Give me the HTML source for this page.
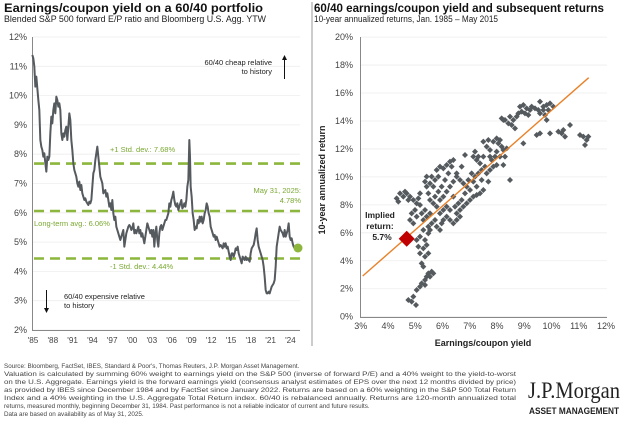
<!DOCTYPE html>
<html><head><meta charset="utf-8"><style>
body{margin:0;width:624px;height:428px;background:#fff;overflow:hidden;font-family:"Liberation Sans",sans-serif;}
svg{position:absolute;left:0;top:0}
</style></head><body>
<svg id="s" width="624" height="428" xmlns="http://www.w3.org/2000/svg" font-family="Liberation Sans, sans-serif">
<text x="4" y="12" font-size="11.5" font-weight="bold" fill="#111" textLength="259" lengthAdjust="spacingAndGlyphs">Earnings/coupon yield on a 60/40 portfolio</text>
<text x="4" y="22" font-size="8.8" fill="#222" textLength="262" lengthAdjust="spacingAndGlyphs">Blended S&amp;P 500 forward E/P ratio and Bloomberg U.S. Agg. YTW</text>
<text x="314" y="12" font-size="11.5" font-weight="bold" fill="#111" textLength="290" lengthAdjust="spacingAndGlyphs">60/40 earnings/coupon yield and subsequent returns</text>
<text x="314" y="22" font-size="8.8" fill="#222" textLength="184" lengthAdjust="spacingAndGlyphs">10-year annualized returns, Jan. 1985 – May 2015</text>
<line x1="312" y1="2" x2="312" y2="346" stroke="#999" stroke-width="1"/>
<g id="lg" stroke="#eee" stroke-width="0.8"></g>
<g id="ly" font-size="9" fill="#444" text-anchor="end"></g>
<line x1="32.5" y1="37" x2="32.5" y2="331" stroke="#888"/>
<line x1="32" y1="330.5" x2="300" y2="330.5" stroke="#888"/>
<g id="lx" font-size="8.2" fill="#444" text-anchor="middle"></g>
<g stroke="#8cb63c" stroke-width="2.6" stroke-dasharray="10,6">
<line x1="34" y1="163.6" x2="300" y2="163.6"/><line x1="34" y1="211" x2="300" y2="211"/><line x1="34" y1="258.5" x2="300" y2="258.5"/></g>
<g font-size="7.5" fill="#7aa832">
<text x="110" y="152">+1 Std. dev.: 7.68%</text>
<text x="34" y="226">Long-term avg.: 6.06%</text>
<text x="110" y="269">-1 Std. dev.: 4.44%</text>
<text x="301" y="193" text-anchor="end">May 31, 2025:</text>
<text x="301" y="203" text-anchor="end">4.78%</text></g>
<g font-size="7.5" fill="#222"><text x="272" y="65" text-anchor="end">60/40 cheap relative</text><text x="272" y="74" text-anchor="end">to history</text>
<text x="64" y="299">60/40 expensive relative</text><text x="64" y="308">to history</text></g>
<line x1="284.5" y1="79" x2="284.5" y2="58" stroke="#111"/><polygon points="282,60 287,60 284.5,55" fill="#111"/>
<line x1="46.5" y1="290" x2="46.5" y2="310" stroke="#111"/><polygon points="44,308 49,308 46.5,313" fill="#111"/>
<polyline id="pl" fill="none" stroke="#555a5e" stroke-width="6" stroke-linejoin="round" transform="scale(0.33333)"/>
<circle cx="298" cy="248" r="4.5" fill="#8cb63c"/>
<g id="rg" stroke="#eee" stroke-width="0.8"></g>
<g id="ry" font-size="9" fill="#444" text-anchor="end"></g>
<g id="rx" font-size="9" fill="#444" text-anchor="middle"></g>
<line x1="360.5" y1="37" x2="360.5" y2="317" stroke="#888"/>
<line x1="360" y1="317.5" x2="607" y2="317.5" stroke="#888"/>
<text transform="translate(325,180) rotate(-90)" font-size="9" font-weight="bold" fill="#222" text-anchor="middle">10-year annualized return</text>
<text x="483" y="346" font-size="9" font-weight="bold" fill="#222" text-anchor="middle">Earnings/coupon yield</text>
<g id="sc" fill="#555a5e" transform="translate(310,0) scale(0.33333)"></g>
<line x1="362.7" y1="276" x2="588.7" y2="77.7" stroke="#e8822a" stroke-width="1.4"/>
<polygon points="406.7,230.7 414.7,238.7 406.7,246.7 398.7,238.7" fill="#c00000"/>
<g font-size="8.5" font-weight="bold" fill="#222" text-anchor="middle"><text x="380" y="218">Implied</text><text x="380" y="229">return:</text><text x="382" y="240">5.7%</text></g>
<g font-size="6.3" fill="#444">
<text x="4" y="368">Source: Bloomberg, FactSet, IBES, Standard &amp; Poor's, Thomas Reuters, J.P. Morgan Asset Management.</text>
<text x="4" y="376" textLength="512" lengthAdjust="spacingAndGlyphs">Valuation is calculated by summing 60% weight to earnings yield on the S&amp;P 500 (inverse of forward P/E) and a 40% weight to the yield-to-worst</text>
<text x="4" y="384" textLength="512" lengthAdjust="spacingAndGlyphs">on the U.S. Aggregate. Earnings yield is the forward earnings yield (consensus analyst estimates of EPS over the next 12 months divided by price)</text>
<text x="4" y="392" textLength="512" lengthAdjust="spacingAndGlyphs">as provided by IBES since December 1984 and by FactSet since January 2022. Returns are based on a 60% weighting in the S&amp;P 500 Total Return</text>
<text x="4" y="400" textLength="512" lengthAdjust="spacingAndGlyphs">Index and a 40% weighting in the U.S. Aggregate Total Return index. 60/40 is rebalanced annually. Returns are 120-month annualized total</text>
<text x="4" y="408">returns, measured monthly, beginning December 31, 1984. Past performance is not a reliable indicator of current and future results.</text>
<text x="4" y="416">Data are based on availability as of May 31, 2025.</text></g>
<text x="528" y="398" font-family="Liberation Serif, serif" font-size="23" fill="#222" textLength="92" lengthAdjust="spacingAndGlyphs">J.P.Morgan</text>
<text x="529" y="414" font-size="9" font-weight="bold" fill="#222" textLength="90" lengthAdjust="spacingAndGlyphs">ASSET MANAGEMENT</text>
</svg>
<script>
var NS="http://www.w3.org/2000/svg";
function el(p,t,a,tx){var e=document.createElementNS(NS,t);for(var k in a)e.setAttribute(k,a[k]);if(tx)e.textContent=tx;document.getElementById(p).appendChild(e);}
for(var v=2;v<=12;v++){var y=37+(12-v)*29.3;el("lg","line",{x1:33,x2:300,y1:y,y2:y});el("ly","text",{x:27,y:y+3},v+"%");}
var yr=["85","88","91","94","97","00","03","06","09","12","15","18","21","24"];
for(var i=0;i<14;i++)el("lx","text",{x:33+i*19.8,y:343},"'"+yr[i]);
for(var v=0;v<=20;v+=2){var y=316.7-v*13.98;el("rg","line",{x1:361,x2:607,y1:y,y2:y});el("ry","text",{x:353,y:y+3},v+"%");}
for(var v=3;v<=12;v++)el("rx","text",{x:360.7+(v-3)*27.26,y:329},v+"%");
var L=[97,165,100,175,103,200,106,260,109,230,112,265,115,300,118,330,121,420,124,440,127,450,130,470,133,460,136,490,139,515,142,470,145,480,148,470,151,400,154,350,157,370,160,330,163,310,166,340,169,290,172,300,175,320,178,310,181,330,184,400,187,420,190,400,193,410,196,390,199,380,202,420,205,380,208,340,211,360,214,420,217,450,220,490,223,510,226,520,229,530,232,550,235,560,238,545,241,570,244,555,247,580,250,590,253,600,256,595,259,605,262,610,265,615,268,605,271,610,274,600,277,560,280,520,283,510,286,480,289,460,292,440,295,470,298,500,301,530,304,540,307,550,310,580,313,575,316,570,319,590,322,580,325,600,328,620,331,610,334,630,337,600,340,640,343,660,346,650,349,680,352,690,355,700,358,710,361,720,364,710,367,700,370,690,373,740,376,720,379,700,382,690,385,680,388,675,391,680,394,690,397,685,400,670,403,700,406,690,409,700,412,690,415,680,418,700,421,690,424,710,427,700,430,715,433,730,436,710,439,690,442,670,445,680,448,690,451,700,454,690,457,710,460,690,463,740,466,700,469,680,472,720,475,740,478,700,481,680,484,675,487,690,490,680,493,670,496,660,499,660,502,650,505,640,508,610,511,620,514,600,517,590,520,575,523,600,526,615,529,620,532,610,535,630,538,620,541,610,544,600,547,625,550,620,553,610,556,620,559,600,562,560,565,540,568,420,570,470,572,560,575,590,578,640,581,660,584,690,587,680,590,685,593,660,596,670,599,650,602,665,605,650,608,670,611,660,614,640,617,630,620,610,623,620,626,640,629,650,632,680,635,690,638,700,641,710,644,705,647,720,650,710,653,720,656,730,659,740,662,735,665,740,668,745,671,730,674,740,677,730,680,745,683,740,686,755,689,770,692,780,695,760,698,760,701,770,704,760,707,745,710,750,713,740,716,760,719,770,722,780,725,790,728,770,731,775,734,780,737,770,740,780,743,775,746,780,749,785,752,760,755,745,758,740,761,735,764,720,767,700,770,685,773,720,776,740,779,750,782,760,785,770,788,780,791,800,794,830,797,870,800,880,803,880,806,875,809,880,812,870,815,860,818,855,821,850,824,840,827,800,830,740,833,720,836,700,839,680,842,690,845,695,848,700,851,710,854,690,857,710,860,700,863,690,866,670,869,710,872,720,875,715,878,730,881,740,884,745,887,750,890,740,893,745];
var s="";for(var i=0;i<L.length;i+=2)s+=L[i]+","+L[i+1]+" ";document.getElementById("pl").setAttribute("points",s);
var P=[295,900,305,905,318,915,310,890,320,870,330,860,335,850,345,840,350,830,355,820,360,830,365,815,370,820,345,855,340,800,335,790,345,770,355,760,330,760,325,740,340,745,350,735,320,720,330,710,345,720,355,700,360,690,340,690,260,595,270,580,280,590,290,580,300,590,295,600,310,600,320,610,325,595,330,615,315,630,305,640,300,660,310,670,320,650,335,640,345,630,340,660,350,650,360,640,355,680,365,670,375,660,380,680,390,690,395,670,400,660,410,650,420,660,430,670,440,660,450,650,440,640,420,630,410,620,400,630,390,640,380,620,370,610,360,600,355,580,350,560,345,545,350,530,365,530,375,540,385,530,380,510,390,500,400,505,410,495,420,485,430,480,425,500,415,520,405,540,395,560,385,575,375,590,390,600,400,590,410,575,420,560,430,545,440,530,450,540,460,550,470,560,480,570,465,580,455,600,445,610,435,620,450,630,460,620,470,610,480,600,490,590,500,585,510,580,520,570,500,560,490,545,495,530,505,520,515,510,525,500,510,490,500,480,490,470,495,455,505,470,520,470,465,465,455,500,440,520,530,520,540,510,550,500,545,480,555,470,560,455,540,450,530,440,520,425,535,420,550,425,560,415,570,420,575,440,580,450,590,445,570,470,560,495,580,495,600,540,535,545,515,540,575,355,585,360,595,370,605,375,615,385,610,360,600,350,620,350,625,340,630,320,640,315,650,325,660,330,655,345,665,320,675,325,685,330,690,340,700,320,710,315,720,310,715,330,705,345,690,305,710,360,720,400,680,405,690,400,640,430,745,395,755,400,765,410,760,390,780,375,810,405,820,410,830,420,835,410,825,435,265,605,285,575,330,580,360,550,370,560,430,590,475,540,485,520,540,470,565,430,585,470,580,360,635,335,645,340,700,330,730,320];
for(var i=0;i<P.length;i+=2){var x=P[i],y=P[i+1],h=9;el("sc","polygon",{points:x+","+(y-h)+" "+(x+h)+","+y+" "+x+","+(y+h)+" "+(x-h)+","+y});}
</script>
</body></html>
